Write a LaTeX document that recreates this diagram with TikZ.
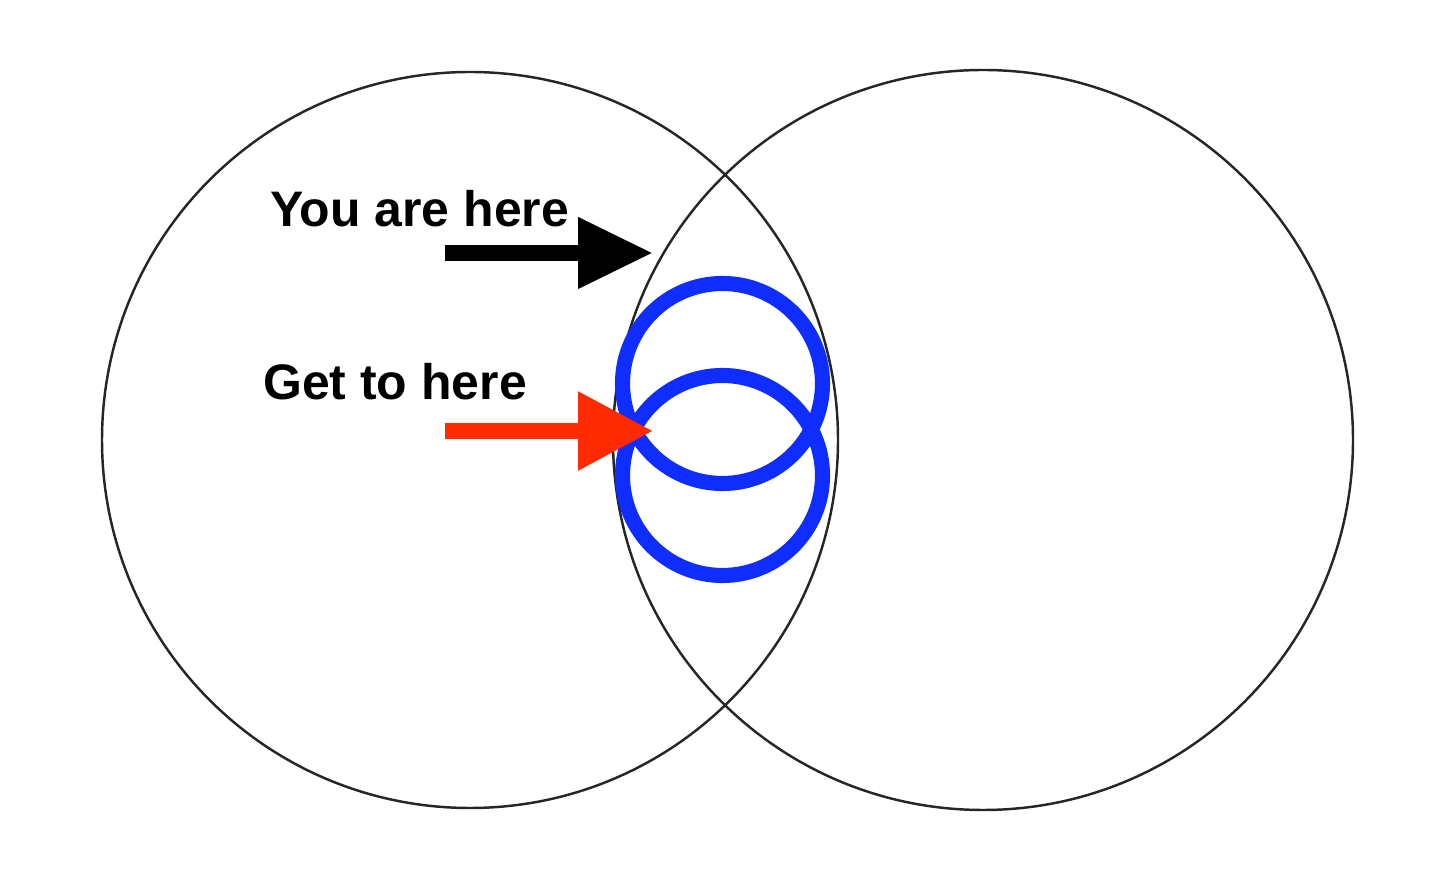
\documentclass[tikz,border=0pt]{standalone}
\usepackage{fontspec}
\setmainfont{Liberation Sans}
\usetikzlibrary{arrows.meta,positioning}
\definecolor{ringblue}{RGB}{15,45,255}
\definecolor{arrowred}{RGB}{255,42,0}

\begin{document}
\begin{tikzpicture}[
  venn/.style={circle, draw=black!85, line width=1.4pt, inner sep=0pt},
  ring/.style={circle, draw=ringblue, line width=8.6pt, inner sep=0pt, minimum size=4cm},
  callout/.style={font=\bfseries\fontsize{28.4}{34}\selectfont, inner sep=0pt, anchor=base west},
  arr/.style={line width=8.8pt, -{Triangle[length=1.5cm, width=1.35cm]}}
]
\useasboundingbox (0,0) rectangle (28.6,17.52);

% the two big sets
\node[venn, minimum size=14.72cm] (leftset) at (9.40,8.72) {};
\node[venn, minimum size=14.80cm] (rightset) at (19.66,8.72) {};

% the two rings in the overlap
\node[ring] (ringtop) at (14.45,9.85) {};
\node[ring] (ringlow) at (14.45,8.01) {};

% texts
\node[callout] (here) at (5.40,12.98) {You are here};
\node[callout] (goal) at (5.26,9.52) {Get to here};

% arrows
\coordinate (heretail) at (8.90,12.46);
\coordinate (heretip) at (13.06,12.46);
\coordinate (goaltail) at (8.90,8.90);
\coordinate (goaltip) at (13.06,8.90);
\draw[arr, black] (heretail) -- (heretip);
\draw[arr, arrowred, -{Triangle[length=1.5cm, width=1.5cm]}] (goaltail) -- (goaltip);
\end{tikzpicture}
\end{document}
